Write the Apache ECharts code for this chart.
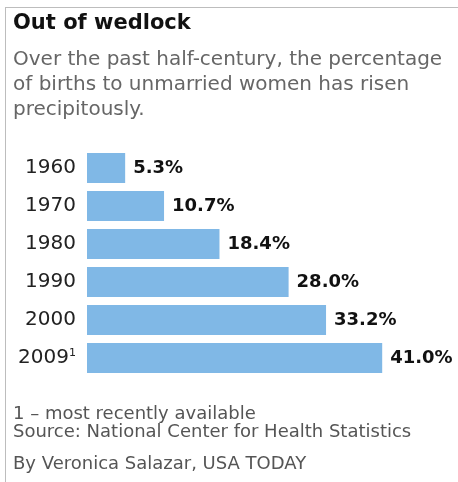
<!DOCTYPE html>
<html>
<head>
<meta charset="utf-8">
<script src="https://cdn.jsdelivr.net/npm/echarts@6/dist/echarts.min.js"></script>
<style>
  html, body { margin: 0; padding: 0; background: #fff; }
  #chart { width: 458px; height: 482px; }
</style>
</head>
<body>
<div id="chart"></div>
<script>
var years = ['1960', '1970', '1980', '1990', '2000', '2009'];
var shares = [5.3, 10.7, 18.4, 28.0, 33.2, 41.0];
var footnoted = ['2009'];

var font = 'DejaVu Sans';
var chart = echarts.init(document.getElementById('chart'));

chart.setOption({
  animation: false,
  grid: {
    left: 87,
    right: 11,
    top: 149,
    height: 228
  },
  xAxis: {
    type: 'value',
    min: 0,
    max: 50,
    show: false
  },
  yAxis: {
    type: 'category',
    data: years,
    inverse: true,
    axisLine: { show: false },
    axisTick: { show: false },
    axisLabel: {
      margin: 11,
      fontFamily: font,
      fontSize: 20,
      color: '#222',
      formatter: function (v) {
        return footnoted.indexOf(v) >= 0 ? v + '{sup|1}' : v;
      },
      rich: {
        sup: { fontFamily: font, fontSize: 11, color: '#222', verticalAlign: 'top', padding: [0, 0, 8, 0] }
      }
    }
  },
  series: [{
    type: 'bar',
    data: shares,
    barWidth: 30,
    itemStyle: { color: '#80b8e6' },
    label: {
      show: true,
      position: 'right',
      distance: 8,
      fontFamily: font,
      fontSize: 18,
      fontWeight: 'bold',
      color: '#111',
      formatter: function (p) { return p.value.toFixed(1) + '%'; }
    }
  }],
  graphic: [
    { type: 'line', shape: { x1: 5, y1: 7.5, x2: 458, y2: 7.5 }, style: { stroke: '#bdbdbd', lineWidth: 1 } },
    { type: 'line', shape: { x1: 5.5, y1: 7, x2: 5.5, y2: 482 }, style: { stroke: '#bdbdbd', lineWidth: 1 } },
    { type: 'text', left: 13, top: 13, style: { text: 'Out of wedlock', font: 'bold 21px "DejaVu Sans"', fill: '#111' } },
    { type: 'text', left: 13, top: 47, style: { text: 'Over the past half-century, the percentage\nof births to unmarried women has risen\nprecipitously.', font: '20px "DejaVu Sans"', fill: '#666', lineHeight: 25 } },
    { type: 'text', left: 13, top: 405, style: { text: '1 – most recently available\nSource: National Center for Health Statistics', font: '18px "DejaVu Sans"', fill: '#555', lineHeight: 18 } },
    { type: 'text', left: 13, top: 455, style: { text: 'By Veronica Salazar, USA TODAY', font: '18px "DejaVu Sans"', fill: '#555' } }
  ]
});
</script>
</body>
</html>
